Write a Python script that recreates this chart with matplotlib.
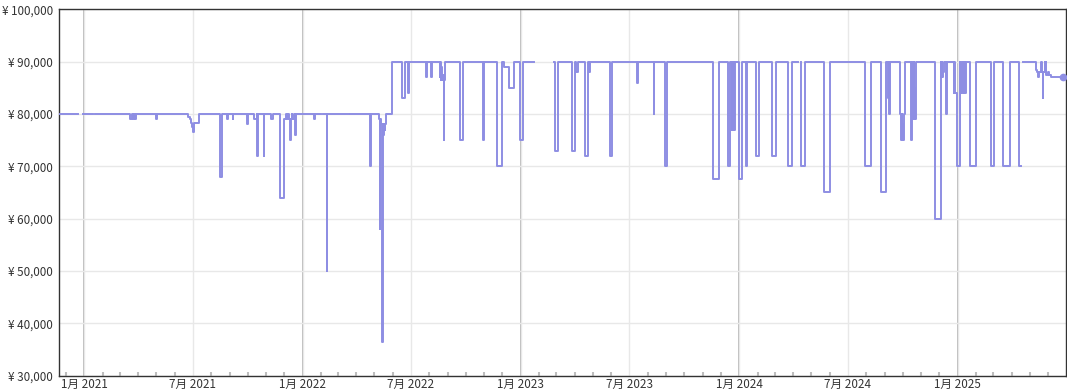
import numpy as np
import pandas as pd
import matplotlib
matplotlib.use("Agg")
import matplotlib.pyplot as plt
import matplotlib.dates as mdates
from matplotlib.ticker import FuncFormatter, MultipleLocator

plt.rcParams['font.family'] = ['Noto Sans CJK JP', 'DejaVu Sans']

# price change events (step-post); None = no data
dates = [
    "2020-11-19", "2020-12-22", "2020-12-30", "2021-01-16", "2021-01-19",
    "2021-03-19", "2021-03-21", "2021-03-23", "2021-03-25", "2021-03-27", "2021-03-29",
    "2021-04-30", "2021-05-02",
    "2021-06-24", "2021-06-26", "2021-06-28", "2021-06-30", "2021-07-02", "2021-07-03", "2021-07-12",
    "2021-08-16", "2021-08-19", "2021-08-28", "2021-08-29", "2021-09-06", "2021-09-07",
    "2021-09-30", "2021-10-01", "2021-10-11", "2021-10-16", "2021-10-17", "2021-10-18",
    "2021-10-28", "2021-10-29", "2021-11-09", "2021-11-12",
    "2021-11-25", "2021-12-01", "2021-12-05", "2021-12-06", "2021-12-08", "2021-12-09",
    "2021-12-11", "2021-12-12", "2021-12-14", "2021-12-15", "2021-12-17", "2021-12-20", "2021-12-21",
    "2022-01-20", "2022-01-22", "2022-01-31", "2022-02-04", "2022-02-10", "2022-02-11",
    "2022-03-19", "2022-03-21", "2022-04-24", "2022-04-25",
    "2022-05-09", "2022-05-10", "2022-05-11", "2022-05-12", "2022-05-13", "2022-05-14",
    "2022-05-15", "2022-05-16", "2022-05-17", "2022-05-18", "2022-05-19", "2022-05-21",
    "2022-05-31", "2022-06-17", "2022-06-21", "2022-06-27", "2022-06-28",
    "2022-07-27", "2022-07-28", "2022-08-04", "2022-08-05",
    "2022-08-18", "2022-08-19", "2022-08-20", "2022-08-21", "2022-08-22", "2022-08-23",
    "2022-08-24", "2022-08-25", "2022-08-26", "2022-08-27",
    "2022-09-21", "2022-09-26", "2022-10-29", "2022-10-31", "2022-11-22", "2022-11-30",
    "2022-12-03", "2022-12-12", "2022-12-20", "2022-12-31",
    "2023-01-05", "2023-01-23", "2023-02-26", "2023-02-27", "2023-03-04",
    "2023-03-28", "2023-04-01", "2023-04-04", "2023-04-06", "2023-04-19", "2023-04-23",
    "2023-04-25", "2023-04-27", "2023-05-30", "2023-06-03", "2023-07-14", "2023-07-16",
    "2023-08-11", "2023-08-12", "2023-08-30", "2023-09-02", "2023-11-19", "2023-11-29",
    "2023-12-13", "2023-12-16", "2023-12-20", "2023-12-21", "2023-12-22", "2023-12-23",
    "2023-12-24", "2023-12-25",
    "2024-01-01", "2024-01-06", "2024-01-13", "2024-01-14", "2024-01-29", "2024-02-03",
    "2024-02-25", "2024-03-03", "2024-03-23", "2024-03-30",
    "2024-04-09", "2024-04-13", "2024-04-14", "2024-04-20",
    "2024-05-22", "2024-06-01", "2024-07-29", "2024-08-08", "2024-08-26", "2024-09-02",
    "2024-09-06", "2024-09-07", "2024-09-08", "2024-09-09",
    "2024-09-27", "2024-09-28", "2024-09-29", "2024-09-30", "2024-10-01", "2024-10-02",
    "2024-10-03", "2024-10-04",
    "2024-10-15", "2024-10-16", "2024-10-17", "2024-10-18", "2024-10-19", "2024-10-20",
    "2024-10-21", "2024-10-22", "2024-10-23",
    "2024-11-23", "2024-12-03", "2024-12-04", "2024-12-05", "2024-12-06", "2024-12-07",
    "2024-12-08", "2024-12-12", "2024-12-13",
    "2024-12-25", "2024-12-26", "2024-12-27", "2024-12-30",
    "2025-01-04", "2025-01-05", "2025-01-07", "2025-01-08", "2025-01-09", "2025-01-11",
    "2025-01-12", "2025-01-13", "2025-01-15",
    "2025-01-21", "2025-02-01", "2025-02-25", "2025-03-02", "2025-03-18", "2025-03-29",
    "2025-04-13", "2025-04-17", "2025-04-20",
    "2025-05-12", "2025-05-14", "2025-05-15", "2025-05-17", "2025-05-20", "2025-05-21",
    "2025-05-23", "2025-05-24", "2025-05-26", "2025-05-27", "2025-05-28", "2025-05-29",
    "2025-06-01", "2025-06-02", "2025-06-06", "2025-06-25",
]
prices = [
    80000, None, 80000, None, 80000,
    79000, 80000, 79000, 80000, 79000, 80000,
    79000, 80000,
    79500, 79000, 78300, 77500, 76600, 78300, 80000,
    68000, 80000, 79000, 80000, 79000, 80000,
    78000, 80000, 79000, 80000, 72000, 80000,
    72000, 80000, 79000, 80000,
    64000, 79000, 80000, 79000, 80000, 79000,
    75000, 79000, 80000, 79000, 80000, 76000, 80000,
    79000, 80000, None, 80000, 50000, 80000,
    None, 80000, 70000, 80000,
    79000, 58000, 79000, 78000, 76000, 36500,
    78000, 76000, 78000, 77000, 78000, 80000,
    90000, 83000, 90000, 84000, 90000,
    87000, 90000, 87000, 90000,
    87000, 90000, 86500, 89000, 87000, 86500,
    87500, 75000, 86500, 90000,
    75000, 90000, 75000, 90000, 70000, 90000,
    89000, 85000, 90000, 75000,
    90000, None, 90000, 73000, 90000,
    73000, 90000, 88000, 90000, 72000, 90000,
    88000, 90000, 72000, 90000, 86000, 90000,
    80000, 90000, 70000, 90000, 67500, 90000,
    70000, 90000, 77000, 90000, 77000, 90000,
    77000, 90000,
    67500, 90000, 70000, 90000, 72000, 90000,
    72000, 90000, 70000, 90000,
    None, 90000, 70000, 90000,
    65000, 90000, 70000, 90000, 65000, 90000,
    83000, 90000, 80000, 90000,
    80000, 75000, 80000, 75000, 78000, 75000,
    80000, 90000,
    75000, 79000, 90000, 79000, 90000, 79000,
    85000, 79000, 90000,
    60000, 90000, 87000, 90000, 87000, 88000,
    90000, 80000, 90000,
    84000, 90000, 84000, 70000,
    90000, 84000, 90000, 84000, 90000, 84000,
    90000, 84000, 90000,
    70000, 90000, 70000, 90000, 70000, 90000,
    70000, None, 90000,
    88500, 88000, 87000, 88000, 90000, 88000,
    83000, 88000, 90000, 88000, 90000, 87500,
    88000, 87500, 87000, 87000,
]

x_start, x_end = "2020-11-19", "2025-06-30"
y_min, y_max = 30000, 100000
line_color = "#8e8ee3"

x = pd.to_datetime(dates)
y = np.array([np.nan if p is None else p for p in prices], dtype=float)

fig = plt.figure(figsize=(10.67, 3.92), dpi=100)
ax = fig.add_axes([0.055, 0.042, 0.9436, 0.934])

ax.plot(x, y, drawstyle="steps-post", color=line_color, lw=1.4, zorder=3)
ax.plot(x[-1:], y[-1:], "o", color=line_color, ms=4.5, zorder=4)

ax.set_xlim(pd.Timestamp(x_start), pd.Timestamp(x_end))
ax.set_ylim(y_min, y_max)

# axes styling
ax.yaxis.set_major_locator(MultipleLocator(10000))
ax.yaxis.set_major_formatter(FuncFormatter(lambda v, p: f"¥ {v:,.0f}"))
ax.xaxis.set_major_locator(mdates.MonthLocator(bymonth=[1, 7]))
ax.xaxis.set_major_formatter(FuncFormatter(
    lambda v, p: f"{mdates.num2date(v).month}月 {mdates.num2date(v).year}"))
ax.xaxis.set_minor_locator(mdates.MonthLocator())

ax.grid(True, which="major", color="#e8e8e8", lw=1, zorder=0)
for yr in range(2021, 2026):
    ax.axvline(pd.Timestamp(f"{yr}-01-01"), color="#a6a6a6", lw=1.1, zorder=1)

ax.tick_params(axis="both", which="major", length=0, labelsize=8.4, colors="#333333")
ax.tick_params(axis="y", pad=4)
ax.tick_params(axis="x", pad=2)
ax.tick_params(axis="x", which="minor", direction="in", length=3, width=1.5, color="#bdbdbd")
ax.tick_params(axis="y", which="minor", length=0)
for s in ax.spines.values():
    s.set_color("#333333")
    s.set_linewidth(1)

fig.savefig("out.png", dpi=100)
